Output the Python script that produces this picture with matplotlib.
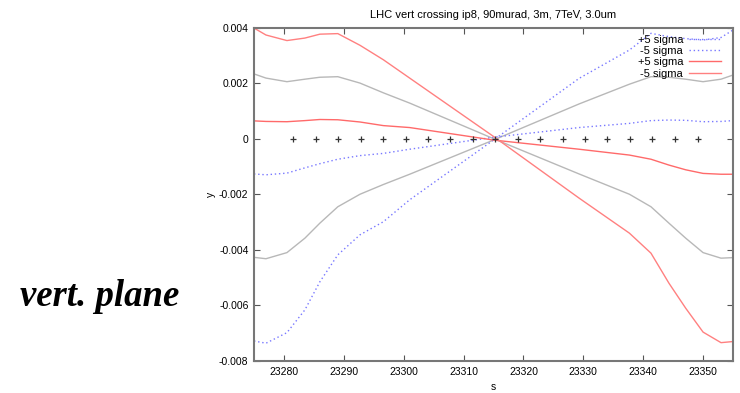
import matplotlib
matplotlib.use("Agg")
import matplotlib.pyplot as plt

plt.rcParams['font.family'] = ['Liberation Sans', 'DejaVu Sans']

title = "LHC vert crossing ip8, 90murad, 3m, 7TeV, 3.0um"
side_text = "vert. plane"

s = [23275, 23277, 23280.5, 23283.5, 23286, 23289, 23292.7, 23296.6, 23301,
     23315, 23329.3, 23337.7, 23341.3, 23344.3, 23347.1, 23350, 23353, 23355]

blue_plus = [-0.00728, -0.00736, -0.00698, -0.00616, -0.00515, -0.00418, -0.00346,
             -0.00299, -0.0022, -0.00005, 0.00217, 0.00319, 0.00379, 0.00367,
             0.0036, 0.00355, 0.00364, 0.00391]
blue_minus = [-0.00127, -0.0013, -0.00124, -0.00105, -0.0009, -0.00074, -0.00061,
              -0.00053, -0.00038, 0.00005, 0.0004, 0.00055, 0.00065, 0.00067,
              0.00066, 0.00061, 0.00062, 0.00065]
red_plus = [0.00064, 0.00062, 0.00061, 0.00065, 0.00069, 0.00068, 0.0006,
            0.00047, 0.0004, -0.00005, -0.00038, -0.00059, -0.00074, -0.00095,
            -0.00112, -0.00125, -0.00128, -0.00128]
red_minus = [0.00398, 0.00373, 0.00353, 0.00362, 0.00376, 0.00378, 0.00336,
             0.00284, 0.00218, 0.00008, -0.00214, -0.0034, -0.00412, -0.0052,
             -0.0061, -0.00696, -0.00734, -0.0073]
gray_a = [0.00233, 0.00218, 0.00205, 0.00214, 0.00221, 0.00223, 0.002,
          0.00165, 0.00128, 0.0, -0.00127, -0.002, -0.00245, -0.00304,
          -0.00358, -0.0041, -0.0043, -0.00428]
gray_b = [-0.00427, -0.00432, -0.0041, -0.00358, -0.00304, -0.00245, -0.002,
          -0.00165, -0.00128, -0.00005, 0.00125, 0.00196, 0.00223, 0.00221,
          0.00214, 0.00205, 0.00214, 0.00229]

orbit_s = [23281.5, 23285.3, 23289.05, 23292.9, 23296.6, 23300.4, 23304.1,
           23307.8, 23311.55, 23315.3, 23319.1, 23322.8, 23326.6, 23330.3,
           23334.0, 23337.8, 23341.55, 23345.3, 23349.1]
orbit_y = [0.0] * len(orbit_s)

xticks = [23280, 23290, 23300, 23310, 23320, 23330, 23340, 23350]
yticks = [0.004, 0.002, 0, -0.002, -0.004, -0.006, -0.008]
ytick_labels = ["0.004", "0.002", "0", "-0.002", "-0.004", "-0.006", "-0.008"]

fig = plt.figure(figsize=(7.4, 3.93), dpi=100)
ax = fig.add_axes([254 / 740, 1 - 361 / 393, (733 - 254) / 740, (361 - 27.5) / 393])

ax.plot(s, gray_a, color='#b8b8b8', lw=1.0)
ax.plot(s, gray_b, color='#b8b8b8', lw=1.0)
ax.plot(s, blue_plus, color='#7878ff', lw=1.0, ls=(0, (1, 2)), label='+5 sigma')
ax.plot(s, blue_minus, color='#7878ff', lw=1.0, ls=(0, (1, 2)), label='-5 sigma')
ax.plot(s, red_plus, color='#ff6a6a', lw=1.0, label='+5 sigma')
ax.plot(s, red_minus, color='#ff8080', lw=1.0, label='-5 sigma')
ax.plot(orbit_s, orbit_y, ls='none', marker='+', color='#333333', ms=5, mew=0.9)

ax.set_xlim(23275, 23355)
ax.set_ylim(-0.008, 0.004)
ax.set_xticks(xticks)
ax.set_yticks(yticks)
ax.set_yticklabels(ytick_labels)
ax.tick_params(direction='in', length=4, width=0.8, color='#555555',
               top=True, right=True, labelsize=7.5, pad=4)
for sp in ax.spines.values():
    sp.set_color('#777777')
    sp.set_linewidth(1.5)

ax.set_title(title, fontsize=8, pad=7)
ax.set_xlabel('s', fontsize=7.5, labelpad=4)
ax.set_ylabel('y', fontsize=7.5, labelpad=2)

leg = ax.legend(loc='upper right', bbox_to_anchor=(1 - 12 / 479, 1 - 7 / 333.5),
                frameon=False, markerfirst=False, fontsize=8, handlelength=2.9,
                handletextpad=0.5, labelspacing=0.12, borderpad=0, borderaxespad=0)

fig.text(100 / 740, 1 - 296 / 393, side_text, family='Liberation Serif',
         style='italic', weight='bold', fontsize=26.5, ha='center', va='center')

fig.savefig('out.png', dpi=100)
